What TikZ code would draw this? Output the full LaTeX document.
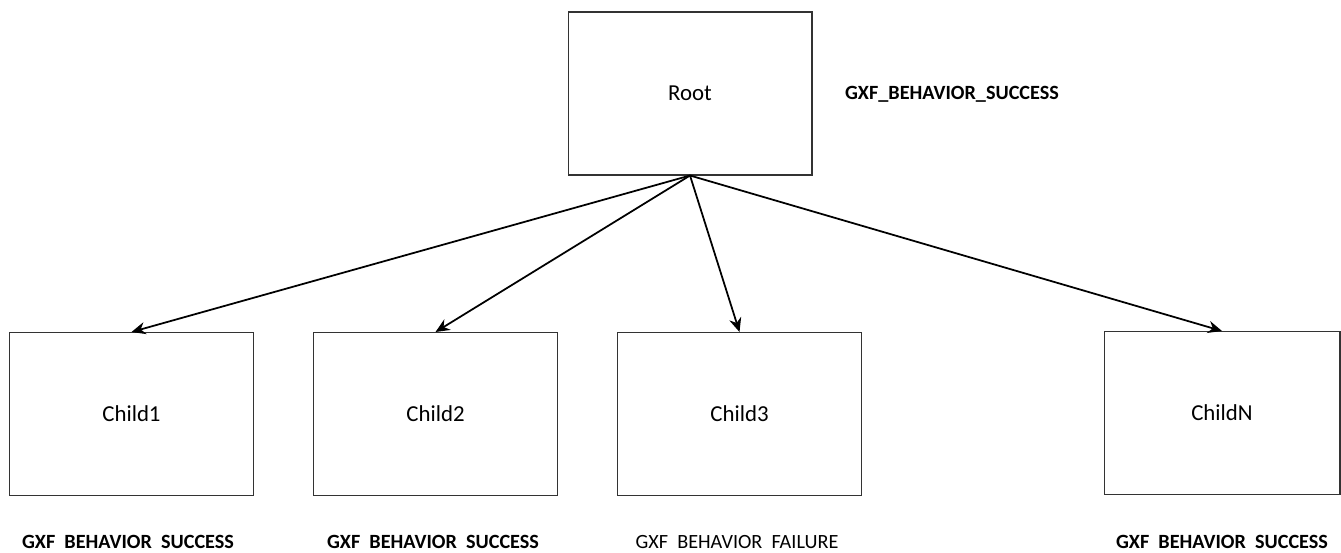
\documentclass[tikz,border=0pt]{standalone}
\usepackage{fontspec}
\setmainfont{Carlito}
\usetikzlibrary{arrows.meta, positioning}

\begin{document}
\begin{tikzpicture}[
            x = 0.02cm,
            y = -0.02cm,
            > = {Stealth[length=8pt, width=7pt]},
            semithick
        ]
        \tikzstyle{every node}=[
            font = \fontsize{13}{15}\selectfont
        ]
        \tikzstyle{box}=[
            draw = black!80,
            line width = 0.6pt,
            minimum width = 4.88cm,
            minimum height = 3.26cm
        ]
        \tikzstyle{status}=[
            inner sep = 0pt,
            font = \fontsize{11.5}{13}\selectfont\bfseries
        ]
        \useasboundingbox (0,0) rectangle (1341,552);

        \node[box] (root) at (690,93.5) {Root};
        \node[box] (c1) at (131.5,414) {Child1};
        \node[box] (c2) at (435.5,414) {Child2};
        \node[box] (c3) at (739.5,414) {Child3};
        \node[box, minimum width = 4.72cm] (cn) at (1222,413) {ChildN};

        \node[status] (sroot) at (952,94) {GXF\_BEHAVIOR\_SUCCESS};
        \node[status] (s1) at (128,542) {GXF\ \ BEHAVIOR\ \ SUCCESS};
        \node[status] (s2) at (433,542) {GXF\ \ BEHAVIOR\ \ SUCCESS};
        \node[status, font = \fontsize{11.5}{13}\selectfont] (s3) at (737,542) {GXF\ \ BEHAVIOR\ \ FAILURE};
        \node[status] (sn) at (1222,542) {GXF\ \ BEHAVIOR\ \ SUCCESS};

        \path[->, line width = 1pt] (root.south) edge (c1.north)
                                    (root.south) edge (c2.north)
                                    (root.south) edge (c3.north)
                                    (root.south) edge (cn.north);
\end{tikzpicture}
\end{document}
